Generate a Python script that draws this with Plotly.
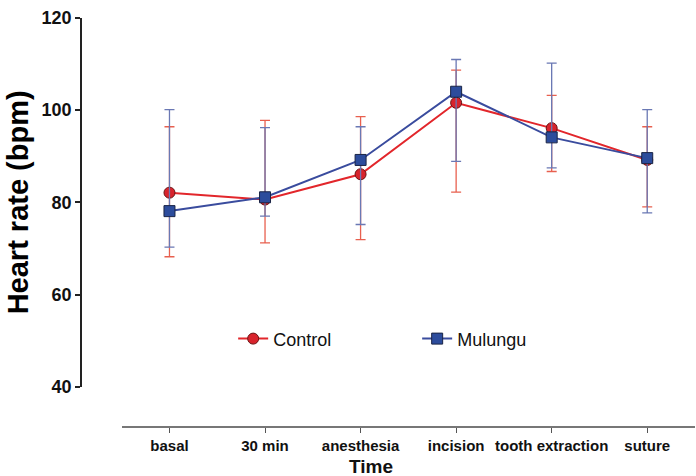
import plotly.graph_objects as go

categories = ["basal", "30 min", "anesthesia", "incision", "tooth extraction", "suture"]

control_mean = [82.1, 80.6, 86.1, 101.6, 96.1, 89.2]
control_err_up = [14.3, 17.2, 12.5, 7.1, 7.1, 7.2]
control_err_down = [13.9, 9.4, 14.2, 19.4, 9.4, 10.2]

mulungu_mean = [78.1, 81.1, 89.2, 104.0, 94.1, 89.6]
mulungu_err_up = [22.0, 15.1, 7.2, 7.0, 16.1, 10.5]
mulungu_err_down = [7.8, 4.1, 14.0, 15.1, 6.6, 11.9]

y_ticks = [40, 60, 80, 100, 120]

FONT = "Arial, Liberation Sans, Helvetica, sans-serif"

fig = go.Figure()

fig.add_trace(go.Scatter(
    x=categories, y=control_mean, name="Control",
    mode="lines+markers",
    line=dict(color="#E2262B", width=2),
    marker=dict(symbol="circle", size=11, color="#D8232C",
                line=dict(color="#6A1414", width=1)),
    error_y=dict(type="data", symmetric=False,
                 array=control_err_up, arrayminus=control_err_down,
                 color="#E8604F", thickness=1.3, width=5),
))

fig.add_trace(go.Scatter(
    x=categories, y=mulungu_mean, name="Mulungu",
    mode="lines+markers",
    line=dict(color="#3A4C9E", width=2),
    marker=dict(symbol="square", size=11, color="#2C4C9C",
                line=dict(color="#1A2445", width=1)),
    error_y=dict(type="data", symmetric=False,
                 array=mulungu_err_up, arrayminus=mulungu_err_down,
                 color="#6A78B4", thickness=1.3, width=5),
))

fig.update_layout(
    width=696, height=476,
    margin=dict(l=81, r=1, t=18, b=49, autoexpand=False),
    paper_bgcolor="white", plot_bgcolor="white",
    font=dict(family=FONT, color="#111111"),
    showlegend=True,
    legend=dict(
        orientation="h",
        xref="container", yref="container",
        x=0.335, y=0.288, xanchor="left", yanchor="middle",
        font=dict(family=FONT, size=18, color="#111111"),
        entrywidth=139,
        bgcolor="rgba(0,0,0,0)",
        traceorder="normal",
    ),
    xaxis=dict(
        domain=[0.0663, 1],
        anchor="free", position=0,
        type="category",
        categoryorder="array", categoryarray=categories,
        range=[-0.5, 5.5],
        showline=True, linecolor="#777777", linewidth=2,
        ticks="outside", ticklen=5, tickcolor="#555555", tickwidth=1,
        showgrid=False, zeroline=False,
        tickfont=dict(family=FONT, size=15, color="#111111", weight="bold"),
    ),
    yaxis=dict(
        domain=[0.0985, 1],
        anchor="free", position=0,
        range=[40, 120],
        tickvals=y_ticks,
        showline=True, linecolor="#222222", linewidth=1.5,
        ticks="outside", ticklen=5, tickcolor="#222222", tickwidth=1.5,
        showgrid=False, zeroline=False,
        tickfont=dict(family=FONT, size=18, color="#111111", weight="bold"),
        title=dict(text="<b>Heart rate (bpm)</b>", font=dict(family=FONT, size=29, color="#000000"),
                   standoff=3),
    ),
    annotations=[dict(
        text="<b>Time</b>", xref="paper", yref="paper",
        x=0.4723, y=-0.0954, xanchor="center", yanchor="middle",
        showarrow=False, font=dict(family=FONT, size=19, color="#111111"),
    )],
)

fig.write_html("out.html", config={"displayModeBar": False},
               post_script="document.body.style.margin='0';")
